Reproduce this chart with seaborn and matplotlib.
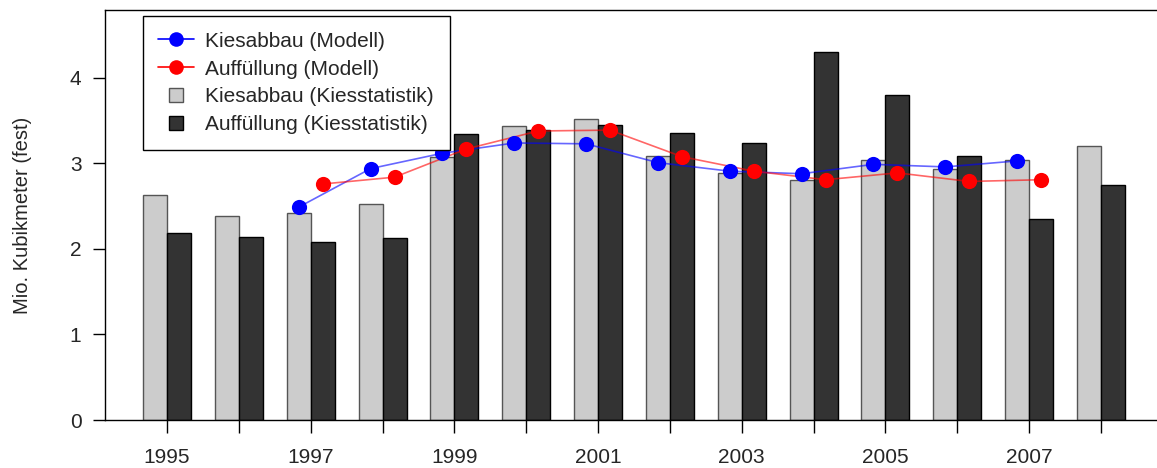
import pandas as pd
import numpy as np
import matplotlib
matplotlib.use("Agg")
import matplotlib.pyplot as plt
import seaborn as sns
from matplotlib.lines import Line2D

# Jahre und Werte (Mio. Kubikmeter fest)
years = list(range(1995, 2009))
kiesabbau_statistik = [2.63, 2.39, 2.42, 2.53, 3.08, 3.44, 3.52, 3.09, 2.89, 2.81, 3.04, 2.94, 3.04, 3.20]
auffuellung_statistik = [2.19, 2.14, 2.08, 2.13, 3.35, 3.39, 3.45, 3.36, 3.24, 4.30, 3.80, 3.09, 2.35, 2.75]

model_years = list(range(1997, 2008))
kiesabbau_modell = [2.49, 2.94, 3.12, 3.24, 3.23, 3.01, 2.91, 2.88, 2.99, 2.96, 3.03]
auffuellung_modell = [2.76, 2.84, 3.17, 3.38, 3.39, 3.08, 2.91, 2.81, 2.89, 2.79, 2.81]

label_years = [1995, 1997, 1999, 2001, 2003, 2005, 2007]

sns.set_style("ticks")
plt.rcParams["font.family"] = ["Liberation Sans", "DejaVu Sans"]

df = pd.DataFrame({
    "Jahr": years * 2,
    "Wert": kiesabbau_statistik + auffuellung_statistik,
    "Reihe": ["Kiesabbau (Kiesstatistik)"] * len(years) + ["Auffüllung (Kiesstatistik)"] * len(years),
})

fig = plt.figure(figsize=(11.57, 4.68), dpi=100)
ax = fig.add_axes([105 / 1157, 48 / 468, 1 - 105 / 1157, 410 / 468])

sns.barplot(data=df, x="Jahr", y="Wert", hue="Reihe", native_scale=True,
            palette=["#CCCCCC", "#333333"], width=2 / 3, gap=0, saturation=1,
            errorbar=None, legend=False, ax=ax)
edge_cols = ["#555555", "#000000"]
for cont, ec in zip(ax.containers, edge_cols):
    for p in cont:
        p.set_edgecolor(ec)
        p.set_linewidth(1.0)

# Modellwerte: blau über den hellen, rot über den dunklen Balken
off = 1 / 6
mx_blue = np.array(model_years) - off
mx_red = np.array(model_years) + off
sns.lineplot(x=mx_blue, y=kiesabbau_modell, color="blue", alpha=0.6, lw=1.2, ax=ax)
sns.lineplot(x=mx_red, y=auffuellung_modell, color="red", alpha=0.6, lw=1.2, ax=ax)
sns.scatterplot(x=mx_blue, y=kiesabbau_modell, color="blue", s=120, linewidth=0, ax=ax, zorder=5)
sns.scatterplot(x=mx_red, y=auffuellung_modell, color="red", s=120, linewidth=0, ax=ax, zorder=5)

ax.set_xlim(1995 - 62 / 71.8, 2008 + 56 / 71.8)
ax.set_ylim(0, 4.795)
ax.set_xticks(years)
ax.set_xticklabels([str(y) if y in label_years else "" for y in years], fontsize=15)
ax.set_yticks([0, 1, 2, 3, 4])
ax.set_yticklabels(["0", "1", "2", "3", "4"], fontsize=15)
ax.tick_params(axis="both", length=9, width=1, color="black")
ax.tick_params(axis="x", pad=11)
ax.tick_params(axis="y", pad=8)
ax.set_xlabel("")
ax.set_ylabel("Mio. Kubikmeter (fest)", fontsize=14.5, labelpad=27)
for s in ["left", "top", "bottom"]:
    ax.spines[s].set_visible(True)
    ax.spines[s].set_color("black")
    ax.spines[s].set_linewidth(1.0)
ax.spines["right"].set_visible(False)

handles = [
    Line2D([], [], color="blue", lw=1.2, marker="o", markersize=10.5, markeredgewidth=0),
    Line2D([], [], color="red", lw=1.2, marker="o", markersize=10.5, markeredgewidth=0),
    Line2D([], [], color="none", marker="s", markersize=10, markerfacecolor="#CCCCCC", markeredgecolor="#555555"),
    Line2D([], [], color="none", marker="s", markersize=10, markerfacecolor="#333333", markeredgecolor="#000000"),
]
labels = ["Kiesabbau (Modell)", "Auffüllung (Modell)", "Kiesabbau (Kiesstatistik)", "Auffüllung (Kiesstatistik)"]
leg = ax.legend(handles, labels, loc="upper left", bbox_to_anchor=(0.036, 0.985), fontsize=15,
                frameon=True, fancybox=False, framealpha=1, edgecolor="black",
                handlelength=1.7, handletextpad=0.55, labelspacing=0.42, borderpad=0.75,
                borderaxespad=0)
leg.get_frame().set_linewidth(1.0)

plt.savefig("out.png", dpi=100)
